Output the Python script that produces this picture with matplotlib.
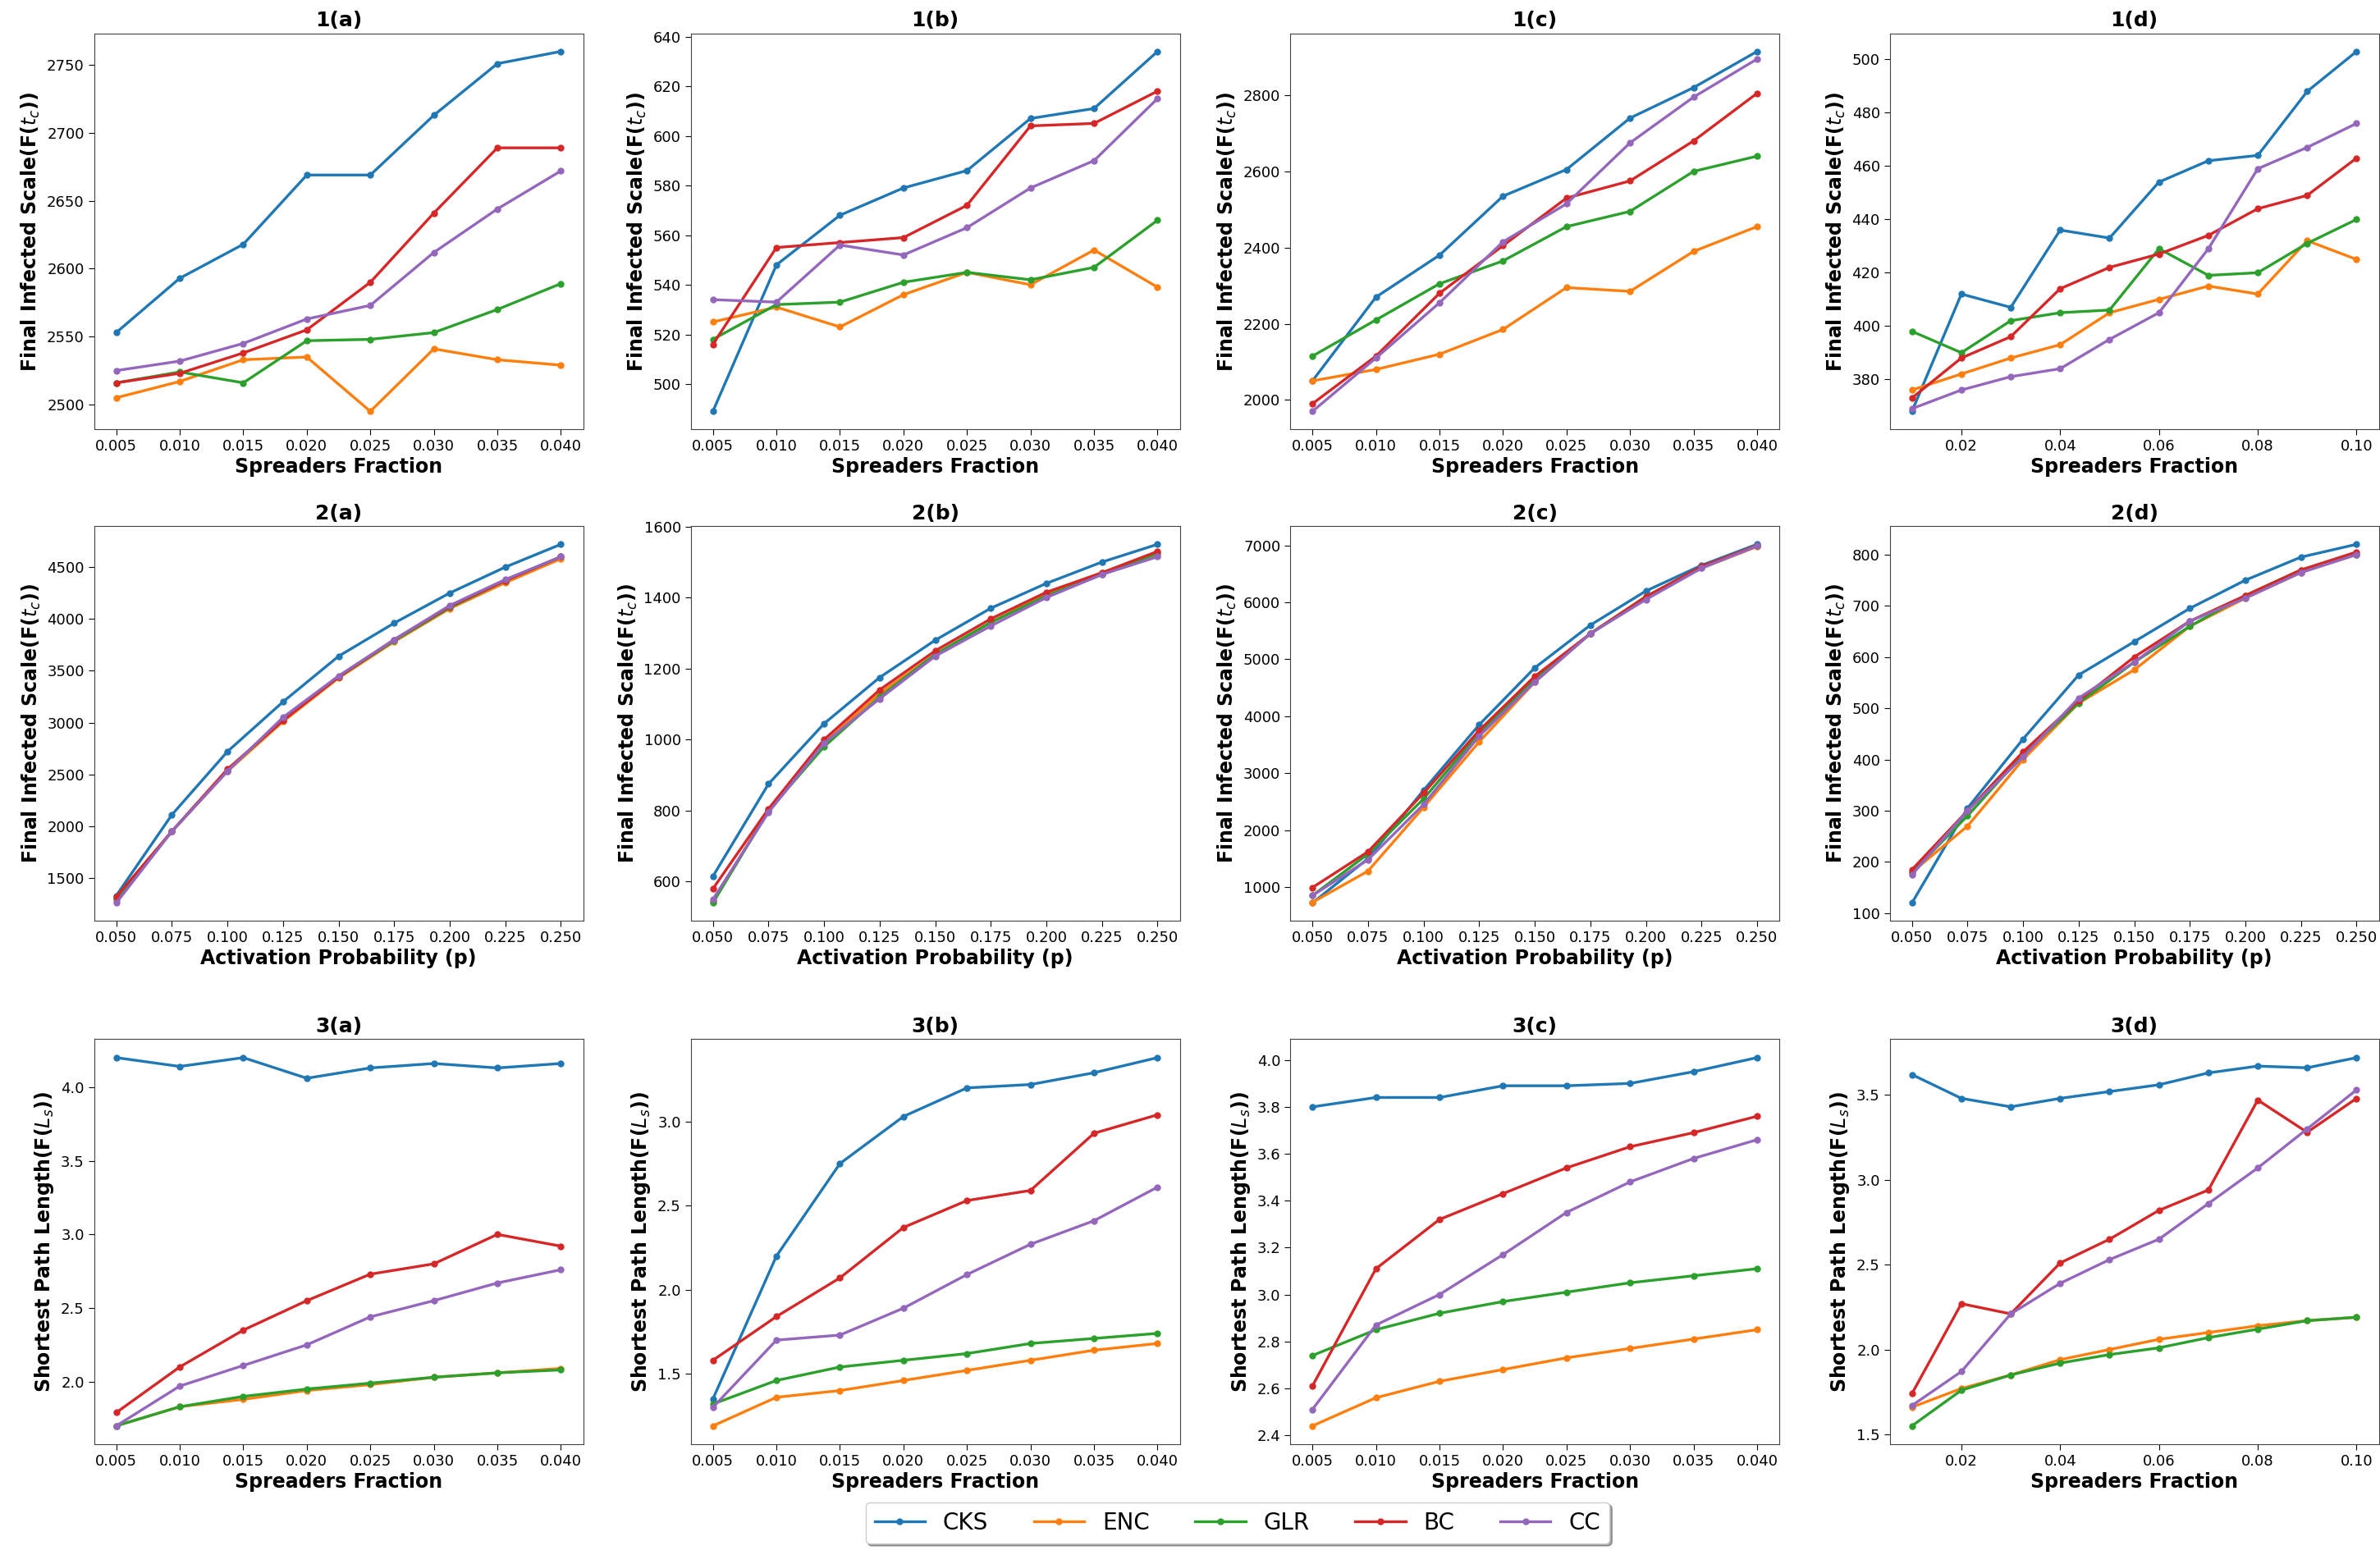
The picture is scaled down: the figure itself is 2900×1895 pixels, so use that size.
import matplotlib
matplotlib.use("Agg")
import matplotlib.pyplot as plt
from matplotlib.ticker import MultipleLocator, FormatStrFormatter

methods = ["CKS", "ENC", "GLR", "BC", "CC"]

# x axes
frac = [0.005, 0.010, 0.015, 0.020, 0.025, 0.030, 0.035, 0.040]
frac_d = [0.01, 0.02, 0.03, 0.04, 0.05, 0.06, 0.07, 0.08, 0.09, 0.10]
prob = [0.050, 0.075, 0.100, 0.125, 0.150, 0.175, 0.200, 0.225, 0.250]

# row 1: final infected scale vs spreaders fraction
f1a = {
    "CKS": [2553, 2593, 2618, 2669, 2669, 2713, 2751, 2760],
    "ENC": [2505, 2517, 2533, 2535, 2495, 2541, 2533, 2529],
    "GLR": [2516, 2524, 2516, 2547, 2548, 2553, 2570, 2589],
    "BC": [2516, 2523, 2538, 2555, 2590, 2641, 2689, 2689],
    "CC": [2525, 2532, 2545, 2563, 2573, 2612, 2644, 2672],
}
f1b = {
    "CKS": [489, 548, 568, 579, 586, 607, 611, 634],
    "ENC": [525, 531, 523, 536, 545, 540, 554, 539],
    "GLR": [518, 532, 533, 541, 545, 542, 547, 566],
    "BC": [516, 555, 557, 559, 572, 604, 605, 618],
    "CC": [534, 533, 556, 552, 563, 579, 590, 615],
}
f1c = {
    "CKS": [2050, 2270, 2380, 2535, 2605, 2740, 2820, 2915],
    "ENC": [2050, 2080, 2120, 2185, 2295, 2285, 2390, 2455],
    "GLR": [2115, 2210, 2305, 2365, 2455, 2495, 2600, 2640],
    "BC": [1990, 2115, 2280, 2405, 2530, 2575, 2680, 2805],
    "CC": [1970, 2110, 2255, 2415, 2515, 2675, 2795, 2895],
}
f1d = {
    "CKS": [368, 412, 407, 436, 433, 454, 462, 464, 488, 503],
    "ENC": [376, 382, 388, 393, 405, 410, 415, 412, 432, 425],
    "GLR": [398, 390, 402, 405, 406, 429, 419, 420, 431, 440],
    "BC": [373, 388, 396, 414, 422, 427, 434, 444, 449, 463],
    "CC": [369, 376, 381, 384, 395, 405, 429, 459, 467, 476],
}

# row 2: final infected scale vs activation probability
f2a = {
    "CKS": [1330, 2110, 2720, 3200, 3640, 3960, 4250, 4500, 4720],
    "ENC": [1290, 1950, 2530, 3010, 3430, 3780, 4100, 4350, 4580],
    "GLR": [1300, 1950, 2540, 3030, 3440, 3790, 4110, 4370, 4600],
    "BC": [1320, 1950, 2550, 3020, 3440, 3800, 4120, 4370, 4600],
    "CC": [1260, 1950, 2530, 3050, 3450, 3800, 4130, 4380, 4600],
}
f2b = {
    "CKS": [615, 875, 1045, 1175, 1280, 1370, 1440, 1500, 1550],
    "ENC": [545, 800, 990, 1130, 1240, 1330, 1410, 1470, 1520],
    "GLR": [540, 800, 980, 1120, 1240, 1330, 1405, 1465, 1525],
    "BC": [580, 805, 1000, 1140, 1250, 1340, 1415, 1470, 1530],
    "CC": [550, 795, 990, 1115, 1235, 1320, 1400, 1465, 1515],
}
f2c = {
    "CKS": [720, 1500, 2700, 3850, 4850, 5600, 6200, 6650, 7020],
    "ENC": [730, 1280, 2400, 3550, 4600, 5450, 6100, 6600, 6980],
    "GLR": [850, 1580, 2550, 3700, 4650, 5450, 6100, 6620, 7000],
    "BC": [990, 1620, 2650, 3750, 4700, 5450, 6100, 6630, 7000],
    "CC": [850, 1480, 2450, 3650, 4600, 5450, 6050, 6600, 6990],
}
f2d = {
    "CKS": [120, 305, 440, 565, 630, 695, 750, 795, 820],
    "ENC": [180, 270, 400, 510, 575, 660, 715, 765, 800],
    "GLR": [180, 290, 410, 510, 590, 660, 720, 770, 800],
    "BC": [185, 300, 415, 515, 600, 670, 720, 770, 805],
    "CC": [175, 300, 405, 520, 590, 670, 715, 765, 800],
}

# row 3: shortest path length vs spreaders fraction
f3a = {
    "CKS": [4.20, 4.14, 4.20, 4.06, 4.13, 4.16, 4.13, 4.16],
    "ENC": [1.70, 1.83, 1.88, 1.94, 1.98, 2.03, 2.06, 2.09],
    "GLR": [1.70, 1.83, 1.90, 1.95, 1.99, 2.03, 2.06, 2.08],
    "BC": [1.79, 2.10, 2.35, 2.55, 2.73, 2.80, 3.00, 2.92],
    "CC": [1.70, 1.97, 2.11, 2.25, 2.44, 2.55, 2.67, 2.76],
}
f3b = {
    "CKS": [1.35, 2.20, 2.75, 3.03, 3.20, 3.22, 3.29, 3.38],
    "ENC": [1.19, 1.36, 1.40, 1.46, 1.52, 1.58, 1.64, 1.68],
    "GLR": [1.32, 1.46, 1.54, 1.58, 1.62, 1.68, 1.71, 1.74],
    "BC": [1.58, 1.84, 2.07, 2.37, 2.53, 2.59, 2.93, 3.04],
    "CC": [1.30, 1.70, 1.73, 1.89, 2.09, 2.27, 2.41, 2.61],
}
f3c = {
    "CKS": [3.80, 3.84, 3.84, 3.89, 3.89, 3.90, 3.95, 4.01],
    "ENC": [2.44, 2.56, 2.63, 2.68, 2.73, 2.77, 2.81, 2.85],
    "GLR": [2.74, 2.85, 2.92, 2.97, 3.01, 3.05, 3.08, 3.11],
    "BC": [2.61, 3.11, 3.32, 3.43, 3.54, 3.63, 3.69, 3.76],
    "CC": [2.51, 2.87, 3.00, 3.17, 3.35, 3.48, 3.58, 3.66],
}
f3d = {
    "CKS": [3.62, 3.48, 3.43, 3.48, 3.52, 3.56, 3.63, 3.67, 3.66, 3.72],
    "ENC": [1.66, 1.77, 1.85, 1.94, 2.00, 2.06, 2.10, 2.14, 2.17, 2.19],
    "GLR": [1.55, 1.76, 1.85, 1.92, 1.97, 2.01, 2.07, 2.12, 2.17, 2.19],
    "BC": [1.74, 2.27, 2.21, 2.51, 2.65, 2.82, 2.94, 3.47, 3.28, 3.48],
    "CC": [1.67, 1.87, 2.21, 2.39, 2.53, 2.65, 2.86, 3.07, 3.30, 3.53],
}

ylab_f = "Final Infected Scale(F($t_c$))"
ylab_s = "Shortest Path Length(F($L_s$))"
xlab_s = "Spreaders Fraction"
xlab_p = "Activation Probability (p)"

# title, x, data, xlabel, ylabel, y tick step
panels = [
    ["1(a)", frac, f1a, xlab_s, ylab_f, 50],
    ["1(b)", frac, f1b, xlab_s, ylab_f, 20],
    ["1(c)", frac, f1c, xlab_s, ylab_f, 200],
    ["1(d)", frac_d, f1d, xlab_s, ylab_f, 20],
    ["2(a)", prob, f2a, xlab_p, ylab_f, 500],
    ["2(b)", prob, f2b, xlab_p, ylab_f, 200],
    ["2(c)", prob, f2c, xlab_p, ylab_f, 1000],
    ["2(d)", prob, f2d, xlab_p, ylab_f, 100],
    ["3(a)", frac, f3a, xlab_s, ylab_s, 0.5],
    ["3(b)", frac, f3b, xlab_s, ylab_s, 0.5],
    ["3(c)", frac, f3c, xlab_s, ylab_s, 0.2],
    ["3(d)", frac_d, f3d, xlab_s, ylab_s, 0.5],
]

# axes boxes (figure fractions)
col_left = [0.0395, 0.2902, 0.5421, 0.7940]
col_w = 0.2055
row_box = [(0.7239, 0.2546), (0.4078, 0.2537), (0.0712, 0.2605)]


def plot():
    fig = plt.figure(figsize=(29, 18.95), dpi=100)

    axes = []
    for r in range(3):
        for col in range(4):
            b, h = row_box[r]
            axes.append(fig.add_axes([col_left[col], b, col_w, h]))

    for ax, (title, x, data, xl, yl, step) in zip(axes, panels):
        for i, m in enumerate(methods):
            ax.plot(x, data[m], color="C" + str(i), marker="o", markersize=5,
                    linewidth=2.4, label=m)
        ax.set_title(title, fontsize=18, fontweight="bold")
        ax.set_xlabel(xl, fontsize=17, fontweight="bold", labelpad=3)
        ax.set_ylabel(yl, fontsize=17, fontweight="bold")
        if x is frac_d:
            ax.xaxis.set_major_locator(MultipleLocator(0.02))
            ax.xaxis.set_major_formatter(FormatStrFormatter("%.2f"))
        else:
            ax.set_xticks(x)
            ax.xaxis.set_major_formatter(FormatStrFormatter("%.3f"))
        ax.yaxis.set_major_locator(MultipleLocator(step))
        if step < 1:
            ax.yaxis.set_major_formatter(FormatStrFormatter("%.1f"))
        ax.tick_params(labelsize=13, length=5)
        for s in ax.spines.values():
            s.set_edgecolor("#444444")

    handles, labels = axes[0].get_legend_handles_labels()
    fig.legend(handles, labels, loc="lower center", bbox_to_anchor=(0.52, 0.0),
               ncol=5, fontsize=20, handlelength=2.2, columnspacing=2.0,
               fancybox=True, shadow=True)

    fig.savefig("out.png")


if __name__ == "__main__":
    plot()
